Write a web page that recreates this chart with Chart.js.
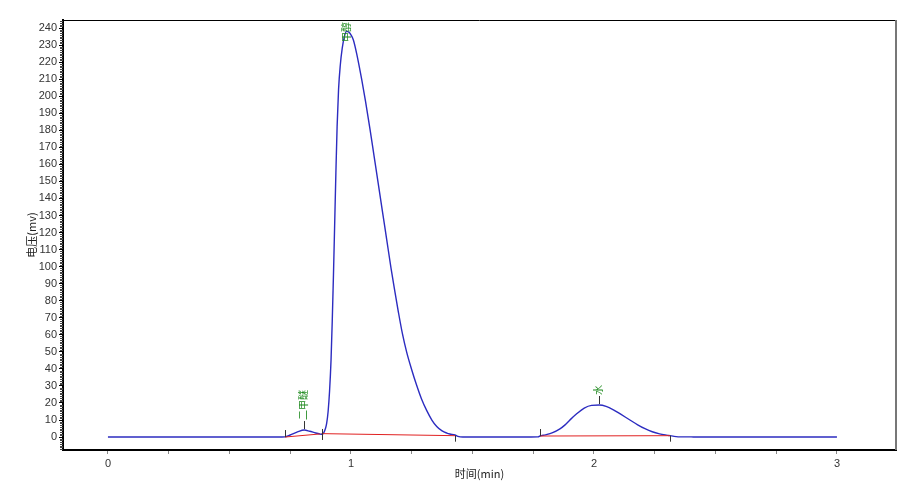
<!DOCTYPE html>
<html>
<head>
<meta charset="utf-8">
<script src="https://cdn.jsdelivr.net/npm/chart.js@4.4.1/dist/chart.umd.min.js"></script>
<style>
html,body{margin:0;padding:0;background:#fff;}
#wrap{width:923px;height:500px;position:relative;}
</style>
</head>
<body>
<div id="wrap"><canvas id="c" width="923" height="500"></canvas></div>
<script>
// ---- data ----
const times = [0, 0.70, 0.728, 0.75, 0.78, 0.808, 0.83, 0.855, 0.872, 0.879, 0.888, 0.895, 0.900, 0.906, 0.912, 0.918, 0.923, 0.928, 0.933, 0.938, 0.943, 0.949, 0.956, 0.964, 0.973, 0.982, 0.992, 1.000, 1.010, 1.025, 1.044, 1.060, 1.078, 1.095, 1.112, 1.130, 1.147, 1.165, 1.180, 1.195, 1.212, 1.229, 1.250, 1.270, 1.290, 1.312, 1.333, 1.353, 1.375, 1.395, 1.407, 1.428, 1.44, 1.46, 1.50, 1.70, 1.77, 1.778, 1.80, 1.83, 1.86, 1.88, 1.901, 1.93, 1.96, 1.99, 2.022, 2.05, 2.08, 2.11, 2.148, 2.18, 2.21, 2.24, 2.27, 2.30, 2.313, 2.33, 2.36, 2.40, 2.42, 3.0];
const voltages = [0, 0, 0.1, 1.2, 3.0, 4.1, 3.4, 2.4, 1.8, 1.6, 2.5, 5, 8, 15, 27, 45, 68, 95, 125, 155, 182, 204, 218, 228, 235, 238, 237.5, 236, 233, 224, 210, 197, 181, 165, 149, 132, 116, 99, 86, 73.5, 60.5, 50, 39.5, 30.5, 22.5, 15.5, 10, 6.2, 3.6, 2.3, 1.8, 1.2, 0.4, 0, 0, 0, 0.1, 0.6, 1.3, 2.6, 4.8, 7, 10, 13.8, 17, 18.6, 18.8, 18, 16, 13.4, 10, 7.2, 4.9, 3.1, 1.9, 1.1, 0.8, 0.4, 0.1, 0.1, 0, 0];

// integration baselines (start time, start value, end time, end value)
const baseStartT = [0.728, 0.879, 1.778];
const baseStartV = [0.0, 2.0, 0.6];
const baseEndT   = [0.872, 1.428, 2.313];
const baseEndV   = [1.8, 0.8, 0.8];

// peak boundary marks: time, value, direction (1 up, -1 down, 0 both)
const markT = [0.728, 0.879, 1.428, 1.778, 2.313];
const markV = [0.0, 1.8, 0.8, 0.6, 0.8];
const markDir = [1, 0, -1, 1, -1];

// peak labels
const peakNames = ['二甲醚', '甲醇', '水'];
const peakTimes = [0.808, 0.985, 2.022];
const peakHeights = [4.1, 238, 18.8];

const xTickLabels = ['0', '1', '2', '3'];
const yTitle = '电压(mv)';
const xTitle = '时间(min)';

const points = times.map((t, i) => ({x: t, y: voltages[i]}));
const baseSets = baseStartT.map((t, i) => ({
  data: [{x: t, y: baseStartV[i]}, {x: baseEndT[i], y: baseEndV[i]}],
  borderColor: '#e02020', borderWidth: 1, pointRadius: 0, tension: 0, fill: false
}));

const framePlugin = {
  id: 'frame',
  afterDraw(chart) {
    const ctx = chart.ctx, a = chart.chartArea;
    const xs = chart.scales.x, ys = chart.scales.y;
    ctx.save();
    // top & right frame
    ctx.strokeStyle = '#000'; ctx.lineWidth = 1;
    ctx.beginPath(); ctx.moveTo(a.left, a.top + 0.5); ctx.lineTo(a.right, a.top + 0.5); ctx.stroke();
    ctx.strokeStyle = '#777'; ctx.lineWidth = 2;
    ctx.beginPath(); ctx.moveTo(a.right, a.top); ctx.lineTo(a.right, a.bottom); ctx.stroke();
    // minor y ticks
    ctx.strokeStyle = '#444'; ctx.lineWidth = 1;
    for (let v = Math.ceil(ys.min); v <= ys.max; v++) {
      if (v % 10 === 0) continue;
      const py = Math.round(ys.getPixelForValue(v)) + 0.5;
      ctx.beginPath(); ctx.moveTo(a.left - 3, py); ctx.lineTo(a.left, py); ctx.stroke();
    }
    // boundary marks
    ctx.strokeStyle = '#333'; ctx.lineWidth = 1;
    markT.forEach((t, i) => {
      const px = Math.round(xs.getPixelForValue(t)) + 0.5;
      const py = ys.getPixelForValue(markV[i]);
      let y1, y2;
      if (markDir[i] === 1) { y1 = py - 7; y2 = py; }
      else if (markDir[i] === -1) { y1 = py; y2 = py + 6; }
      else { y1 = py - 5; y2 = py + 6; }
      ctx.beginPath(); ctx.moveTo(px, y1); ctx.lineTo(px, y2); ctx.stroke();
    });
    // peak labels
    ctx.font = '10px "Noto Sans CJK SC", sans-serif';
    peakTimes.forEach((t, i) => {
      const px = Math.round(xs.getPixelForValue(t)) + 0.5;
      const py = ys.getPixelForValue(peakHeights[i]);
      const lineTop = py - 9;
      if (lineTop > a.top + 30) {
        ctx.strokeStyle = '#333';
        ctx.beginPath(); ctx.moveTo(px, py - 1); ctx.lineTo(px, lineTop); ctx.stroke();
      }
      const w = ctx.measureText(peakNames[i]).width;
      let bottom = lineTop - 1;
      if (bottom - w < a.top + 2) bottom = a.top + 2 + w;
      ctx.save();
      ctx.translate(px - 1, bottom);
      ctx.rotate(-Math.PI / 2);
      ctx.fillStyle = '#1f8a1f';
      ctx.textAlign = 'left';
      ctx.textBaseline = 'middle';
      ctx.fillText(peakNames[i], 0, 0);
      ctx.restore();
    });
    ctx.restore();
  }
};

new Chart(document.getElementById('c'), {
  type: 'line',
  data: {
    datasets: [
      ...baseSets,
      {
        data: points,
        borderColor: '#2c2cc0', borderWidth: 1.4, pointRadius: 0,
        cubicInterpolationMode: 'monotone', fill: false
      }
    ]
  },
  options: {
    responsive: false,
    animation: false,
    events: [],
    layout: {padding: {left: 0, top: 20, right: 27, bottom: 0}},
    plugins: {legend: {display: false}, tooltip: {enabled: false}},
    scales: {
      x: {
        type: 'linear', min: -0.185, max: 3.243,
        afterFit(s) { s.height = 50; },
        border: {color: '#000', width: 2},
        grid: {drawOnChartArea: false, drawTicks: true, tickLength: 4, color: '#888'},
        ticks: {
          stepSize: 0.25, includeBounds: false, autoSkip: false, maxRotation: 0,
          padding: 3, color: '#333', font: {family: 'Liberation Sans, Arial, sans-serif', size: 11},
          callback: (v) => (Math.abs(v - Math.round(v)) < 1e-6 && Math.round(v) >= 0) ? xTickLabels[Math.round(v)] : ''
        },
        title: {display: true, text: xTitle, color: '#222',
          font: {family: '"Noto Sans CJK SC", sans-serif', size: 11}, padding: {top: 0, bottom: 20}}
      },
      y: {
        type: 'linear', min: -7.6, max: 244.7,
        afterFit(s) { s.width = 63; },
        border: {color: '#000', width: 2},
        grid: {drawOnChartArea: false, drawTicks: true, tickLength: 4, color: '#000'},
        ticks: {
          stepSize: 10, includeBounds: false, autoSkip: false,
          padding: 2, color: '#333', font: {family: 'Liberation Sans, Arial, sans-serif', size: 11}
        },
        title: {display: true, text: yTitle, color: '#222',
          font: {family: '"Noto Sans CJK SC", sans-serif', size: 11}, padding: {top: 25, bottom: 0}}
      }
    }
  },
  plugins: [framePlugin]
});
</script>
</body>
</html>
